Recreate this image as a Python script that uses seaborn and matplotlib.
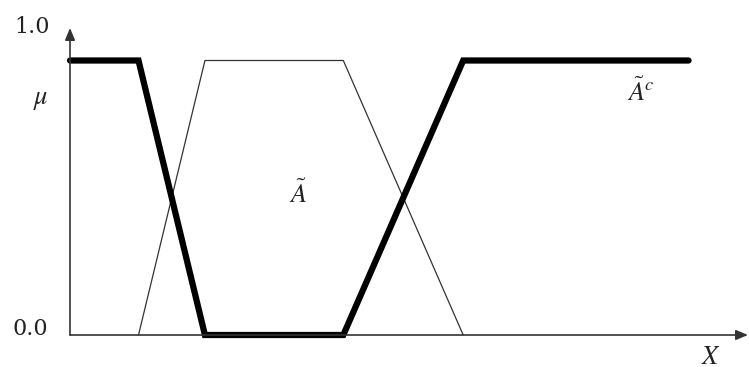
import matplotlib
matplotlib.use("Agg")
import matplotlib.pyplot as plt
import seaborn as sns
import pandas as pd

# membership functions (x in universe units, y = membership)
a_x = [1.0, 1.97, 3.99, 5.74]
a_y = [0.0, 0.90, 0.90, 0.0]
ac_x = [0.0, 1.0, 1.97, 3.99, 5.74, 9.03]
ac_y = [0.90, 0.90, 0.0, 0.0, 0.90, 0.90]
y_ticks = [0.0, 1.0]
y_tick_labels = ["0.0", "1.0"]

sns.set_theme(style="white")
plt.rcParams["mathtext.fontset"] = "stix"
plt.rcParams["font.family"] = ["DejaVu Serif", "DejaVu Sans"]

W, H = 749, 367
fig = plt.figure(figsize=(W / 100, H / 100), dpi=100)
x0px, y0px = 70, 335
unit = 68.5
ytop_px = 30
xmax = (748 - x0px) / unit
ymax = (y0px - 28) / (y0px - ytop_px)
ax = fig.add_axes([x0px / W, (H - y0px) / H, (748 - x0px) / W, (y0px - 28) / H])
ax.set_xlim(0, xmax)
ax.set_ylim(0, ymax)
ax.axis("off")

df_a = pd.DataFrame({"x": a_x, "y": a_y})
df_ac = pd.DataFrame({"x": ac_x, "y": ac_y})
sns.lineplot(data=df_a, x="x", y="y", ax=ax, color="#333333", lw=0.9, sort=False,
             estimator=None, clip_on=False)
sns.lineplot(data=df_ac, x="x", y="y", ax=ax, color="black", lw=4.5, sort=False,
             estimator=None, solid_capstyle="round", solid_joinstyle="miter", clip_on=False)

# axes with arrows
ax.annotate("", xy=(xmax, 0), xytext=(0, 0),
            arrowprops=dict(arrowstyle="-|>,head_length=0.6,head_width=0.25", color="#333333", lw=1.2,
                            shrinkA=0, shrinkB=0), annotation_clip=False)
ax.annotate("", xy=(0, ymax), xytext=(0, 0),
            arrowprops=dict(arrowstyle="-|>,head_length=0.6,head_width=0.25", color="#333333", lw=1.2,
                            shrinkA=0, shrinkB=0), annotation_clip=False)

def px(xp, yp):
    return ((xp - x0px) / unit, (y0px - yp) / (y0px - ytop_px))

for val, lab in zip(y_ticks, y_tick_labels):
    if val > 0:
        ax.text(*px(32, 27), lab, fontsize=16, ha="center", va="center", color="#222222")
    else:
        ax.text(*px(30, 329), lab, fontsize=16, ha="center", va="center", color="#222222")

ax.text(*px(41, 100), r"$\mu$", fontsize=19, ha="center", va="center", color="#222222")
ax.text(*px(711, 356), r"$X$", fontsize=19, ha="center", va="center", color="#222222")
ax.text(*px(298, 194), r"$\tilde{A}$", fontsize=19, ha="center", va="center", color="#222222")
ax.text(*px(641, 92), r"$\tilde{A}^{c}$", fontsize=19, ha="center", va="center", color="#222222")

fig.savefig("out.png", dpi=100)
